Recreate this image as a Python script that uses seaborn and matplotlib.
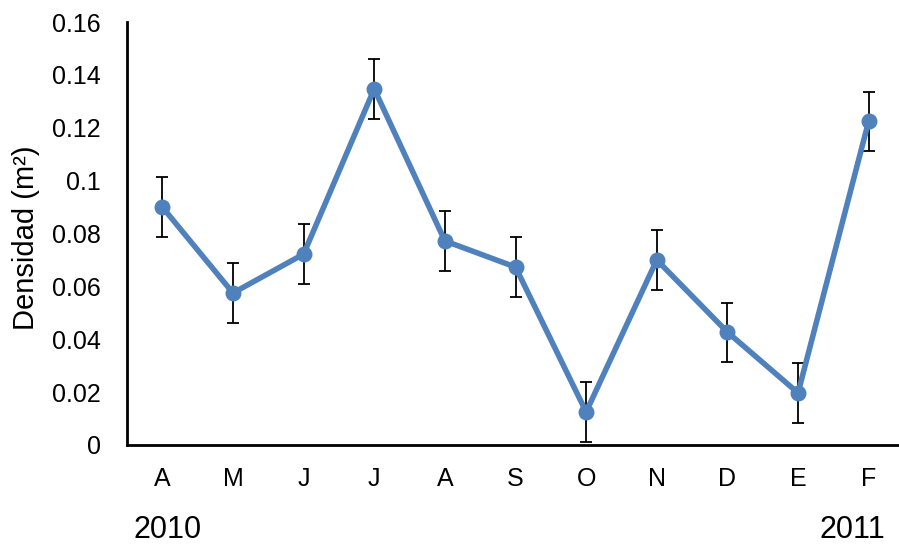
import numpy as np
import pandas as pd
import matplotlib
matplotlib.use("Agg")
import matplotlib.pyplot as plt
import seaborn as sns

months = ["A", "M", "J", "J", "A", "S", "O", "N", "D", "E", "F"]
densidad = [0.0900, 0.0575, 0.0722, 0.1347, 0.0772, 0.0673, 0.0125, 0.0700, 0.0427, 0.0197, 0.1225]
error = [0.0112, 0.0113, 0.0113, 0.0113, 0.0112, 0.0113, 0.0113, 0.0112, 0.0112, 0.0113, 0.0112]
yticks = [0, 0.02, 0.04, 0.06, 0.08, 0.1, 0.12, 0.14, 0.16]
ytick_labels = ["0", "0.02", "0.04", "0.06", "0.08", "0.1", "0.12", "0.14", "0.16"]
years = ["2010", "2011"]

sns.set_style("white")
plt.rcParams["font.family"] = ["Liberation Sans", "DejaVu Sans"]
plt.rcParams["text.color"] = "black"
plt.rcParams["xtick.color"] = "black"
plt.rcParams["ytick.color"] = "black"
plt.rcParams["axes.labelcolor"] = "black"

df = pd.DataFrame({"pos": np.arange(len(months)), "densidad": densidad, "error": error})

fig = plt.figure(figsize=(8.99, 5.44), dpi=100)
ax = fig.add_axes([127 / 899, 1 - 445 / 544, (904 - 127) / 899, (445 - 22) / 544])

color = "#4F81BD"
ax.errorbar(df["pos"], df["densidad"], yerr=df["error"], fmt="none", ecolor="black",
            elinewidth=1.3, capsize=4.5, capthick=1.3, zorder=2)
sns.lineplot(data=df, x="pos", y="densidad", ax=ax, color=color, linewidth=4.0,
             marker="o", markersize=11.5, markeredgewidth=0, markerfacecolor=color, zorder=3)

ax.set_xlim(-0.5, len(months) - 0.5)
ax.set_ylim(0, 0.16)
ax.set_yticks(yticks)
ax.set_yticklabels(ytick_labels, fontsize=18)
ax.set_xticks(np.arange(len(months)))
ax.set_xticklabels(months, fontsize=18)
ax.set_xticks(np.arange(len(months) + 1) - 0.5, minor=True)
ax.tick_params(axis="x", which="major", length=0, pad=16)
ax.tick_params(axis="x", which="minor", length=8, width=2, direction="out", color="black")
ax.tick_params(axis="y", which="major", length=8, width=2, direction="out", color="black", pad=11)
ax.set_xlabel("")
ax.set_ylabel("Densidad (m²)", fontsize=21)
ax.yaxis.set_label_coords(-0.112, 0.49)

for s in ["top", "right"]:
    ax.spines[s].set_visible(False)
for s in ["left", "bottom"]:
    ax.spines[s].set_linewidth(2)
    ax.spines[s].set_color("black")

fig.text(168 / 899, 1 - 530 / 544, years[0], fontsize=22, ha="center", va="center")
fig.text(852 / 899, 1 - 530 / 544, years[1], fontsize=22, ha="center", va="center")

fig.savefig("out.png", dpi=100)
